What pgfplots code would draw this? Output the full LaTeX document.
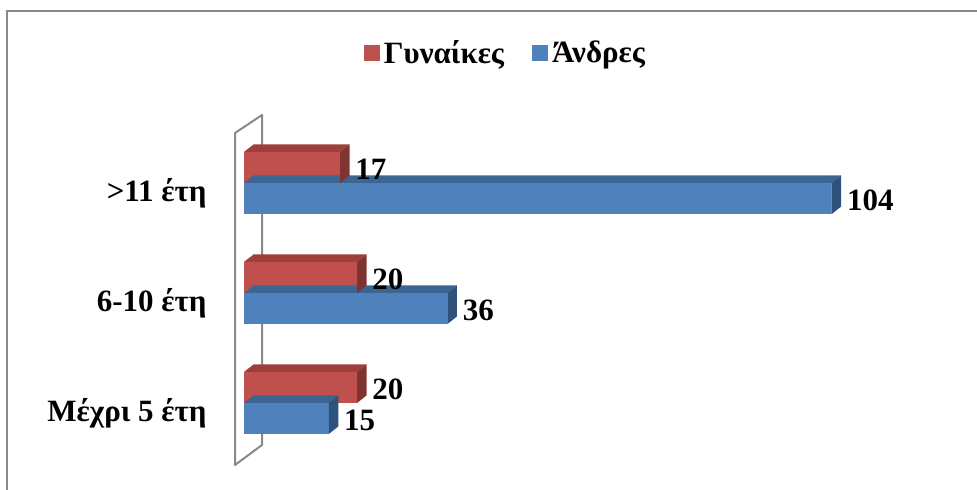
\documentclass[border=0pt]{standalone}
\usepackage{fontspec}
\setmainfont{Liberation Serif}
\usepackage{pgfplots}
\usepackage{pgfplotstable}
\pgfplotsset{compat=1.18}
\definecolor{redfront}{HTML}{C0504D}
\definecolor{redtop}{HTML}{9E3F3C}
\definecolor{redside}{HTML}{7F3431}
\definecolor{bluefront}{HTML}{4F81BD}
\definecolor{bluetop}{HTML}{3D6594}
\definecolor{blueside}{HTML}{2F527C}
\definecolor{framegray}{HTML}{898989}

\newcommand\xu{2.8255}
\newcommand\ddx{4.75pt}
\newcommand\ddy{3.75pt}
\newcommand\barfaces[4]{%
  \pgfmathsetlengthmacro\barL{\bv*\xu pt}%
  \pgfsetfillcolor{#1}%
  \pgfpathmoveto{\pgfpoint{-\barL}{#3}}%
  \pgfpathlineto{\pgfpoint{0pt}{#3}}%
  \pgfpathlineto{\pgfpoint{\ddx}{#3+\ddy}}%
  \pgfpathlineto{\pgfpoint{-\barL+\ddx}{#3+\ddy}}%
  \pgfpathclose
  \pgfusepathqfill
  \pgfsetfillcolor{#2}%
  \pgfpathmoveto{\pgfpoint{0pt}{#4}}%
  \pgfpathlineto{\pgfpoint{\ddx}{#4+\ddy}}%
  \pgfpathlineto{\pgfpoint{\ddx}{#3+\ddy}}%
  \pgfpathlineto{\pgfpoint{0pt}{#3}}%
  \pgfpathclose
  \pgfusepathqfill
}
\pgfdeclareplotmark{redfaces}{\barfaces{redtop}{redside}{15.5pt}{0pt}}
\pgfdeclareplotmark{bluefaces}{\barfaces{bluetop}{blueside}{0pt}{-15.5pt}}

\pgfplotstableread{
y men women
0 15 20
1 36 20
2 104 17
}\datatable

\newcommand\lblfont{\fontsize{15.5}{18}\selectfont\bfseries}

\begin{document}
\begin{tikzpicture}
\path[use as bounding box] (0,0) rectangle (488.5pt,245pt);
\draw[framegray, line width=1pt] (3.5pt,-10pt) -- (3.5pt,239.25pt) -- (500pt,239.25pt);
\draw[framegray, line width=1pt, line join=round] (117.5pt,12.5pt) -- (117.5pt,178.5pt) -- (131pt,187.5pt) -- (131pt,22.5pt) -- cycle;
\begin{axis}[
  anchor=south west, at={(122pt,10.5pt)},
  x=2.8255pt, y=55pt,
  xmin=0, xmax=120, ymin=-0.6, ymax=2.6,
  clip=false,
  axis x line=none,
  axis y line*=left,
  y axis line style={draw=none},
  ytick={0,1,2},
  yticklabels={Μέχρι 5 έτη, 6-10 έτη, >11 έτη},
  major tick length=0pt,
  ytick style={draw=none},
  yticklabel style={anchor=base east, inner sep=0pt, xshift=-18.5pt, yshift=-9.5pt, font=\lblfont},
  /pgf/number format/assume math mode=true,
  legend style={at={(0.3871,1.1818)}, anchor=center, draw=none, fill=none,
    legend columns=2, font=\lblfont,
    /tikz/every even column/.append style={column sep=12pt}},
  legend image code/.code={\fill[#1] (-0.5pt,-4pt) rectangle (7.5pt,4pt);},
]
\addlegendimage{fill=redfront, draw=none}
\addlegendentry{Γυναίκες}
\addlegendimage{fill=bluefront, draw=none}
\addlegendentry{Άνδρες}

% Men (blue)
\addplot[forget plot, xbar, bar width=15.5pt, bar shift=-7.75pt, fill=bluefront, draw=none,
  nodes near coords,
  nodes near coords style={anchor=west, inner sep=0pt, xshift=7.5pt, yshift=-8.5pt, font=\lblfont, text=black}]
  table[x=men, y=y] {\datatable};
\addplot[forget plot, only marks, mark=bluefaces,
  visualization depends on={\thisrow{men} \as \bv}]
  table[x=men, y=y] {\datatable};
% Women (red)
\addplot[forget plot, xbar, bar width=15.5pt, bar shift=7.75pt, fill=redfront, draw=none,
  nodes near coords,
  nodes near coords style={anchor=west, inner sep=0pt, xshift=7.5pt, yshift=7pt, font=\lblfont, text=black}]
  table[x=women, y=y] {\datatable};
\addplot[forget plot, only marks, mark=redfaces,
  visualization depends on={\thisrow{women} \as \bv}]
  table[x=women, y=y] {\datatable};
\end{axis}
\end{tikzpicture}
\end{document}
